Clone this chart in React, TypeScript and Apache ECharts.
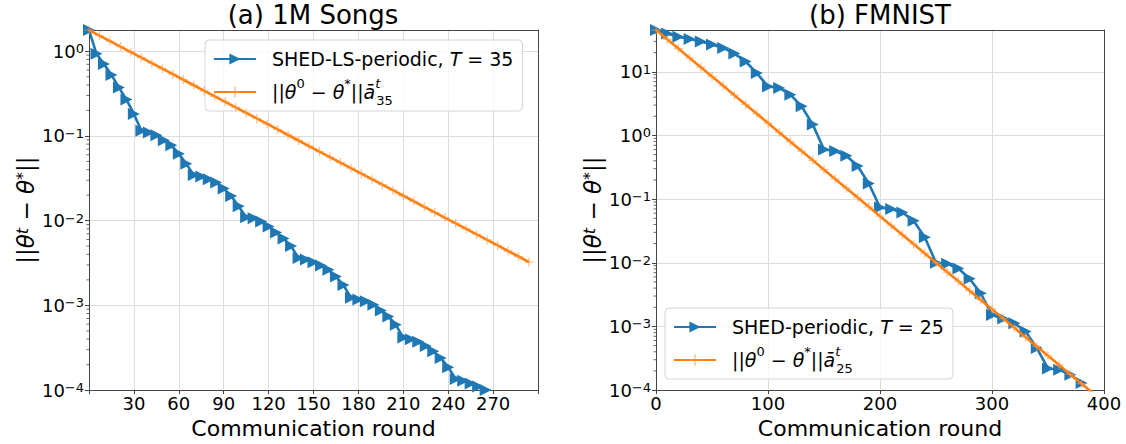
import React, { useEffect, useRef } from 'react';
import * as echarts from 'echarts';

// ---------- data ----------
// (a) 1M Songs
const songsShedRounds = [0, 5, 10, 15, 20, 25, 30, 35, 40, 45, 50, 55, 60, 65, 70, 75, 80, 85, 90, 95, 100, 105, 110, 115, 120, 125, 130, 135, 140, 145, 150, 155, 160, 165, 170, 175, 180, 185, 190, 195, 200, 205, 210, 215, 220, 225, 230, 235, 240, 245, 250, 255, 260, 265];
const songsShed = [1.778, 0.933, 0.708, 0.525, 0.372, 0.269, 0.182, 0.115, 0.110, 0.102, 0.0891, 0.0776, 0.0617, 0.0468, 0.0347, 0.0331, 0.0309, 0.0282, 0.0240, 0.0195, 0.0148, 0.0110, 0.0107, 0.00977, 0.00851, 0.00724, 0.00617, 0.00501, 0.00363, 0.00347, 0.00324, 0.00295, 0.00263, 0.00219, 0.00174, 0.00123, 0.00117, 0.00112, 0.00102, 0.000871, 0.000741, 0.000589, 0.000417, 0.000398, 0.000372, 0.000331, 0.000288, 0.000240, 0.000186, 0.000135, 0.000129, 0.000120, 0.000110, 0.000100];
const songsBoundRounds = [0, 7, 14, 21, 28, 35, 42, 49, 56, 63, 70, 77, 84, 91, 98, 105, 112, 119, 126, 133, 140, 147, 154, 161, 168, 175, 182, 189, 196, 203, 210, 217, 224, 231, 238, 245, 252, 259, 266, 273, 280, 287, 294];
const songsBound = [1.778, 1.530, 1.317, 1.133, 0.9754, 0.8395, 0.7225, 0.6218, 0.5351, 0.4606, 0.3963, 0.3410, 0.2935, 0.2526, 0.2174, 0.1871, 0.1610, 0.1386, 0.1192, 0.1026, 0.08831, 0.07600, 0.06541, 0.05629, 0.04844, 0.04169, 0.03588, 0.03088, 0.02657, 0.02287, 0.01968, 0.01694, 0.01457, 0.01254, 0.01079, 0.009290, 0.007995, 0.006881, 0.005922, 0.005096, 0.004385, 0.003774, 0.003248];
const songsXTickLabels = [30, 60, 90, 120, 150, 180, 210, 240, 270];

// (b) FMNIST
const fmnistShedRounds = [0, 10, 20, 30, 40, 50, 60, 70, 80, 90, 100, 110, 120, 130, 140, 150, 160, 170, 180, 190, 200, 210, 220, 230, 240, 250, 260, 270, 280, 290, 300, 310, 320, 330, 340, 350, 360, 370, 380];
const fmnistShed = [45.3, 39.8, 35.5, 32.8, 29.8, 26.9, 23.7, 19.3, 14.5, 9.55, 5.89, 5.56, 4.37, 2.87, 1.48, 0.603, 0.569, 0.479, 0.331, 0.176, 0.0741, 0.0698, 0.0617, 0.0457, 0.0251, 0.0100, 0.00964, 0.00813, 0.00562, 0.00331, 0.00151, 0.00133, 0.00112, 0.000832, 0.000457, 0.000219, 0.000209, 0.000174, 0.000129];
const fmnistBoundRounds = [0, 10, 20, 30, 40, 50, 60, 70, 80, 90, 100, 110, 120, 130, 140, 150, 160, 170, 180, 190, 200, 210, 220, 230, 240, 250, 260, 270, 280, 290, 300, 310, 320, 330, 340, 350, 360, 370, 380, 390];
const fmnistBound = [45.29, 32.35, 23.10, 16.50, 11.78, 8.414, 6.009, 4.292, 3.065, 2.189, 1.563, 1.116, 0.7974, 0.5694, 0.4067, 0.2904, 0.2074, 0.1481, 0.1058, 0.07554, 0.05395, 0.03853, 0.02752, 0.01965, 0.01404, 0.01002, 0.007158, 0.005112, 0.003651, 0.002607, 0.001862, 0.00133, 0.0009497, 0.0006782, 0.0004844, 0.0003459, 0.000247, 0.0001764, 0.000126, 0.00009];
const fmnistXTickLabels = [0, 100, 200, 300, 400];

const minorMultipliers = [2, 3, 4, 5, 6, 7, 8, 9];

// ---------- styling ----------
const FONT = '"DejaVu Sans", "Noto Sans", sans-serif';
const BLUE = '#1f77b4';
const ORANGE = '#ff7f0e';
const PLUS_LIGHT = 'rgba(255,150,60,0.6)';
const PLUS = 'path://M8.6,0H11.4V20H8.6Z M0,8.6H20V11.4H0Z';
const GRID_COLOR = '#dcdcdc';
const SPINE = '#444';

const supStyle = { fontSize: 13, fontFamily: FONT, color: '#000', verticalAlign: 'top', lineHeight: 13 } as any;

const names = {
  shed35: 'SHED-LS-periodic, T = 35',
  bound35: 'bound35',
  shed25: 'SHED-periodic, T = 25',
  bound25: 'bound25',
};

const legendText: Record<string, string> = {
  [names.shed35]: '{gap| }SHED-LS-periodic, {it|T} = 35',
  [names.bound35]: '{gap| }||{it|θ}{sup|0} − {it|θ}{sup|*}||{it|ā}{supn|t}{sub|35}',
  [names.shed25]: '{gap| }SHED-periodic, {it|T} = 25',
  [names.bound25]: '{gap| }||{it|θ}{sup|0} − {it|θ}{sup|*}||{it|ā}{supn|t}{sub|25}',
};

const legendRich = {
  gap: { width: 11, fontSize: 19 },
  it: { fontStyle: 'italic', fontSize: 19, fontFamily: FONT, color: '#000' },
  sup: { fontSize: 13, fontFamily: FONT, color: '#000', verticalAlign: 'top', lineHeight: 14 },
  supn: { fontSize: 13, fontFamily: FONT, color: '#000', fontStyle: 'italic', verticalAlign: 'top', lineHeight: 14, width: 1 },
  sub: { fontSize: 13, fontFamily: FONT, color: '#000', verticalAlign: 'bottom', lineHeight: 14 },
};

function minorTicks(minExp: number, max: number) {
  const out: number[] = [];
  for (let e = minExp; Math.pow(10, e) < max; e++) {
    for (const m of minorMultipliers) {
      const v = m * Math.pow(10, e);
      if (v < max) out.push(v);
    }
  }
  return out;
}

function logLabel(v: number) {
  const l = Math.log10(v);
  const e = Math.round(l);
  if (Math.abs(l - e) > 1e-6) return '';
  return '10{sup|' + (e < 0 ? '−' + -e : String(e)) + '}';
}

function zip(xs: number[], ys: number[]) {
  return xs.map((x, i) => [x, ys[i]]);
}

const Y_MAX_A = 1.78;
const Y_MAX_B = 45.3;
const Y_MIN = 1e-4;

function buildOption() {
  const yName = '||{it|θ}{supi|t} − {it|θ}{sup|*}||';
  const yNameStyle = {
    fontSize: 23,
    fontFamily: FONT,
    color: '#000',
    rich: {
      it: { fontStyle: 'italic', fontSize: 23, fontFamily: FONT, color: '#000' },
      sup: { fontSize: 16, fontFamily: FONT, color: '#000', verticalAlign: 'top', lineHeight: 15 },
      supi: { fontSize: 16, fontStyle: 'italic', fontFamily: FONT, color: '#000', verticalAlign: 'top', lineHeight: 15 },
    },
  };
  const xNameStyle = { fontSize: 22, fontFamily: FONT, color: '#000' };

  const makeLogAxis = (grid: number, max: number) => ({
    type: 'log',
    logBase: 10,
    gridIndex: grid,
    min: Y_MIN,
    max,
    name: yName,
    nameLocation: 'middle',
    nameRotate: 90,
    nameGap: 52,
    nameTextStyle: yNameStyle,
    axisLine: { show: true, lineStyle: { color: SPINE, width: 1 } },
    axisTick: { show: true, length: 4, lineStyle: { color: SPINE } },
    axisLabel: {
      formatter: logLabel,
      fontSize: 18,
      fontFamily: FONT,
      color: '#000',
      margin: 5,
      rich: { sup: supStyle },
    },
    splitLine: { show: true, lineStyle: { color: GRID_COLOR, width: 1 } },
  });

  const makeXAxis = (grid: number, max: number, interval: number, labels: number[]) => ({
    type: 'value',
    gridIndex: grid,
    min: 0,
    max,
    interval,
    name: 'Communication round',
    nameLocation: 'middle',
    nameGap: 22,
    nameTextStyle: xNameStyle,
    axisLine: { show: true, onZero: false, lineStyle: { color: SPINE, width: 1 } },
    axisTick: { show: true, length: 4, lineStyle: { color: SPINE } },
    axisLabel: {
      formatter: (v: number) => (labels.includes(v) ? String(v) : ''),
      fontSize: 18,
      fontFamily: FONT,
      color: '#000',
      margin: 4,
      showMinLabel: true,
      showMaxLabel: true,
    },
    splitLine: { show: true, lineStyle: { color: GRID_COLOR, width: 1 } },
  });

  const frameX = (grid: number) => ({
    type: 'value', gridIndex: grid, position: 'top', min: 0, max: 1,
    axisLine: { show: true, onZero: false, lineStyle: { color: SPINE, width: 1 } },
    axisTick: { show: false }, axisLabel: { show: false }, splitLine: { show: false },
  });
  const frameY = (grid: number) => ({
    type: 'value', gridIndex: grid, position: 'right', min: 0, max: 1,
    axisLine: { show: true, onZero: false, lineStyle: { color: SPINE, width: 1 } },
    axisTick: { show: false }, axisLabel: { show: false }, splitLine: { show: false },
  });

  const shedSeries = (name: string, xi: number, data: number[][]) => ({
    type: 'line',
    name,
    xAxisIndex: xi,
    yAxisIndex: xi,
    data,
    symbol: 'triangle',
    symbolRotate: -90,
    symbolSize: 12,
    lineStyle: { color: BLUE, width: 2.6 },
    itemStyle: { color: BLUE },
    z: 3,
  });
  const boundSeries = (name: string, xi: number, data: number[][]) => ({
    type: 'line',
    name,
    xAxisIndex: xi,
    yAxisIndex: xi,
    data,
    symbol: PLUS,
    symbolSize: 9,
    lineStyle: { color: ORANGE, width: 2.6 },
    itemStyle: { color: PLUS_LIGHT },
    z: 4,
  });
  const minorSeries = (xi: number, values: number[]) => ({
    type: 'custom',
    xAxisIndex: xi,
    yAxisIndex: xi,
    clip: false,
    silent: true,
    data: values.map((v) => [0, v]),
    renderItem: (_p: any, api: any) => {
      const pt = api.coord([api.value(0), api.value(1)]);
      return {
        type: 'line',
        shape: { x1: pt[0] - 2.5, y1: pt[1], x2: pt[0], y2: pt[1] },
        style: { stroke: SPINE, lineWidth: 0.8 },
      };
    },
    z: 1,
  });

  const legendBase = {
    orient: 'vertical',
    itemWidth: 42,
    itemHeight: 14,
    itemGap: 3,
    padding: [4, 9, 4, 8],
    backgroundColor: 'rgba(255,255,255,0.8)',
    borderColor: '#d4d4d4',
    borderWidth: 1,
    borderRadius: 4,
    formatter: (n: string) => legendText[n] || n,
    textStyle: { fontSize: 19, fontFamily: FONT, color: '#000', lineHeight: 30, rich: legendRich },
    selectedMode: false,
  };

  const titleStyle = { fontSize: 26, fontWeight: 'normal', fontFamily: FONT, color: '#000', lineHeight: 30 };

  return {
    animation: false,
    backgroundColor: '#fff',
    title: [
      { text: '(a) 1M Songs', left: 313, top: 0, textAlign: 'center', padding: 0, textStyle: titleStyle },
      { text: '(b) FMNIST', left: 880, top: 0, textAlign: 'center', padding: 0, textStyle: titleStyle },
    ],
    grid: [
      { left: 89, top: 30, width: 449, height: 362 },
      { left: 656, top: 30, width: 448, height: 362 },
    ],
    xAxis: [
      makeXAxis(0, 300, 30, songsXTickLabels),
      makeXAxis(1, 400, 100, fmnistXTickLabels),
      frameX(0),
      frameX(1),
    ],
    yAxis: [
      makeLogAxis(0, Y_MAX_A),
      makeLogAxis(1, Y_MAX_B),
      frameY(0),
      frameY(1),
    ],
    legend: [
      { ...legendBase, data: [names.shed35, names.bound35], left: 205, top: 40 },
      { ...legendBase, data: [names.shed25, names.bound25], left: 665, top: 308 },
    ],
    series: [
      shedSeries(names.shed35, 0, zip(songsShedRounds, songsShed)),
      boundSeries(names.bound35, 0, zip(songsBoundRounds, songsBound)),
      shedSeries(names.shed25, 1, zip(fmnistShedRounds, fmnistShed)),
      boundSeries(names.bound25, 1, zip(fmnistBoundRounds, fmnistBound)),
      minorSeries(0, minorTicks(-4, Y_MAX_A)),
      minorSeries(1, minorTicks(-4, Y_MAX_B)),
    ],
  };
}

export default function App() {
  const ref = useRef<HTMLDivElement>(null);
  useEffect(() => {
    if (!ref.current) return;
    const chart = echarts.init(ref.current, null, { renderer: 'svg' });
    chart.setOption(buildOption() as any);
    return () => chart.dispose();
  }, []);
  return <div ref={ref} style={{ position: 'fixed', left: 0, top: 0, width: 1126, height: 444, background: '#fff' }} />;
}
